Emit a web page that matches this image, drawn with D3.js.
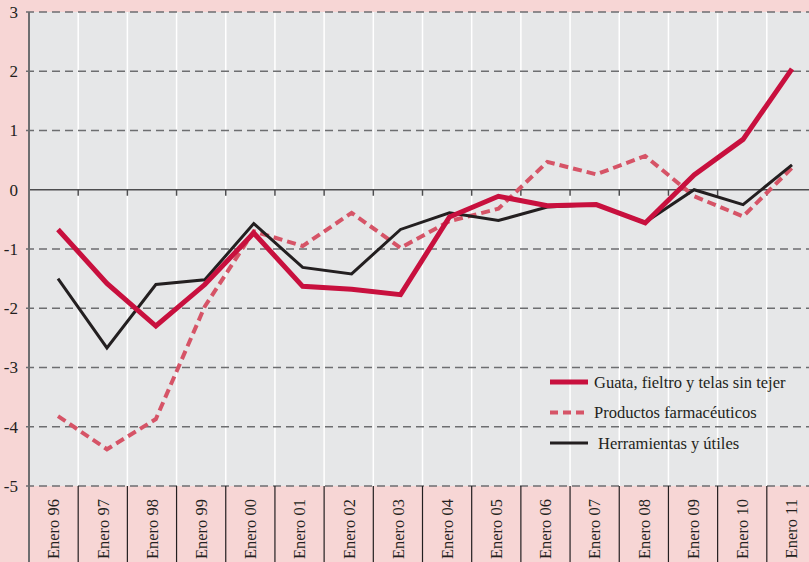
<!DOCTYPE html>
<meta charset="utf-8">
<script src="https://d3js.org/d3.v7.min.js"></script>
<style>
  body { margin: 0; background: #f7d6d5; }
  svg { display: block; }
</style>
<div id="chart"></div>
<script>

// data
var years = ["Enero 96", "Enero 97", "Enero 98", "Enero 99", "Enero 00", "Enero 01", "Enero 02", "Enero 03",
             "Enero 04", "Enero 05", "Enero 06", "Enero 07", "Enero 08", "Enero 09", "Enero 10", "Enero 11"];
var guata = [-0.67, -1.58, -2.30, -1.60, -0.73, -1.63, -1.68, -1.77, -0.46, -0.11, -0.27, -0.25, -0.56, 0.25, 0.85, 2.04];
var farma = [-3.82, -4.38, -3.87, -1.97, -0.70, -0.95, -0.39, -0.98, -0.53, -0.32, 0.47, 0.26, 0.57, -0.11, -0.45, 0.37];
var herram = [-1.50, -2.67, -1.60, -1.52, -0.57, -1.31, -1.42, -0.67, -0.39, -0.52, -0.29, -0.25, -0.55, 0.00, -0.25, 0.42];
var yTicks = [3, 2, 1, 0, -1, -2, -3, -4, -5];

var series = [
  {name: "Guata, fieltro y telas sin tejer", values: guata, color: "#c8103e", width: 5, dash: null},
  {name: "Productos farmacéuticos", values: farma, color: "#d65467", width: 4, dash: "9,5"},
  {name: "Herramientas y útiles", values: herram, color: "#231f20", width: 3, dash: null}
];

var W = 809, H = 562;
var mLeft = 29, mTop = 12, mBottom = 486, mRight = 816;

var svg = d3.select("#chart").append("svg")
    .attr("width", W)
    .attr("height", H)
    .style("font-family", "'Liberation Serif', 'DejaVu Serif', serif");

// columns for the category boxes
var xBand = d3.scaleBand().domain(years).range([mLeft, mRight]);
// points for the lines
var x = d3.scalePoint().domain(years).range([58, 792]);
var y = d3.scaleLinear().domain([-5, 3]).range([mBottom, mTop]);

// plot background
svg.append("rect")
    .attr("x", mLeft).attr("y", y(3))
    .attr("width", W - mLeft).attr("height", y(-5) - y(3))
    .attr("fill", "#e6e7e8");

// white vertical grid
svg.append("g")
  .selectAll("line")
  .data(years.slice(1))
  .enter().append("line")
    .attr("x1", function(d) { return xBand(d); })
    .attr("x2", function(d) { return xBand(d); })
    .attr("y1", y(3)).attr("y2", y(-5))
    .attr("stroke", "#ffffff")
    .attr("stroke-width", 1.5);

// dashed horizontal grid
svg.append("g")
  .selectAll("line")
  .data(yTicks.filter(function(d) { return d !== 0; }))
  .enter().append("line")
    .attr("x1", mLeft - 3).attr("x2", W)
    .attr("y1", function(d) { return y(d); })
    .attr("y2", function(d) { return y(d); })
    .attr("stroke", "#6d6e70")
    .attr("stroke-width", 1.6)
    .attr("stroke-dasharray", "8,5");

// zero line with ticks
svg.append("line")
    .attr("x1", mLeft).attr("x2", W)
    .attr("y1", y(0)).attr("y2", y(0))
    .attr("stroke", "#4d4d4f")
    .attr("stroke-width", 1.5);
svg.append("g")
  .selectAll("line")
  .data(years.slice(1))
  .enter().append("line")
    .attr("x1", function(d) { return xBand(d); })
    .attr("x2", function(d) { return xBand(d); })
    .attr("y1", y(0)).attr("y2", y(0) + 6)
    .attr("stroke", "#4d4d4f")
    .attr("stroke-width", 1.5);

// category separators in the bottom strip
svg.append("g")
  .selectAll("line")
  .data(years.slice(1))
  .enter().append("line")
    .attr("x1", function(d) { return xBand(d); })
    .attr("x2", function(d) { return xBand(d); })
    .attr("y1", y(-5)).attr("y2", H)
    .attr("stroke", "#231f20")
    .attr("stroke-width", 1.2);

// left axis line
svg.append("line")
    .attr("x1", mLeft).attr("x2", mLeft)
    .attr("y1", y(3)).attr("y2", H)
    .attr("stroke", "#6d6e70")
    .attr("stroke-width", 2);

// y labels
svg.append("g")
  .selectAll("text")
  .data(yTicks)
  .enter().append("text")
    .attr("x", 18)
    .attr("y", function(d) { return y(d); })
    .attr("dy", "0.35em")
    .attr("text-anchor", "end")
    .style("font-size", "17px")
    .style("fill", "#231f20")
    .text(function(d) { return d; });

// x labels, rotated
svg.append("g")
  .selectAll("text")
  .data(years)
  .enter().append("text")
    .attr("transform", function(d) {
      return "translate(" + (xBand(d) + xBand.bandwidth() / 2) + "," + 499 + ") rotate(-90)";
    })
    .attr("dy", "0.35em")
    .attr("text-anchor", "end")
    .style("font-size", "16.5px")
    .style("fill", "#231f20")
    .text(function(d) { return d; });

// lines
var line = d3.line()
    .x(function(d, i) { return x(years[i]); })
    .y(function(d) { return y(d); });

[series[1], series[2], series[0]].forEach(function(s) {
  svg.append("path")
      .datum(s.values)
      .attr("d", line)
      .attr("fill", "none")
      .attr("stroke", s.color)
      .attr("stroke-width", s.width)
      .attr("stroke-dasharray", s.dash)
      .attr("stroke-linejoin", "miter");
});

// legend
var legend = svg.append("g")
  .selectAll("g")
  .data(series)
  .enter().append("g")
    .attr("transform", function(d, i) { return "translate(550," + (382 + i * 30.5) + ")"; });

legend.append("line")
    .attr("x1", 0).attr("x2", 38)
    .attr("stroke", function(d) { return d.color; })
    .attr("stroke-width", function(d) { return d.width; })
    .attr("stroke-dasharray", function(d) { return d.dash ? "8,5" : null; });

legend.append("text")
    .attr("x", function(d, i) { return i === 2 ? 48 : 44; })
    .attr("dy", "0.35em")
    .style("font-size", "16.5px")
    .style("fill", "#231f20")
    .text(function(d) { return d.name; });

</script>
